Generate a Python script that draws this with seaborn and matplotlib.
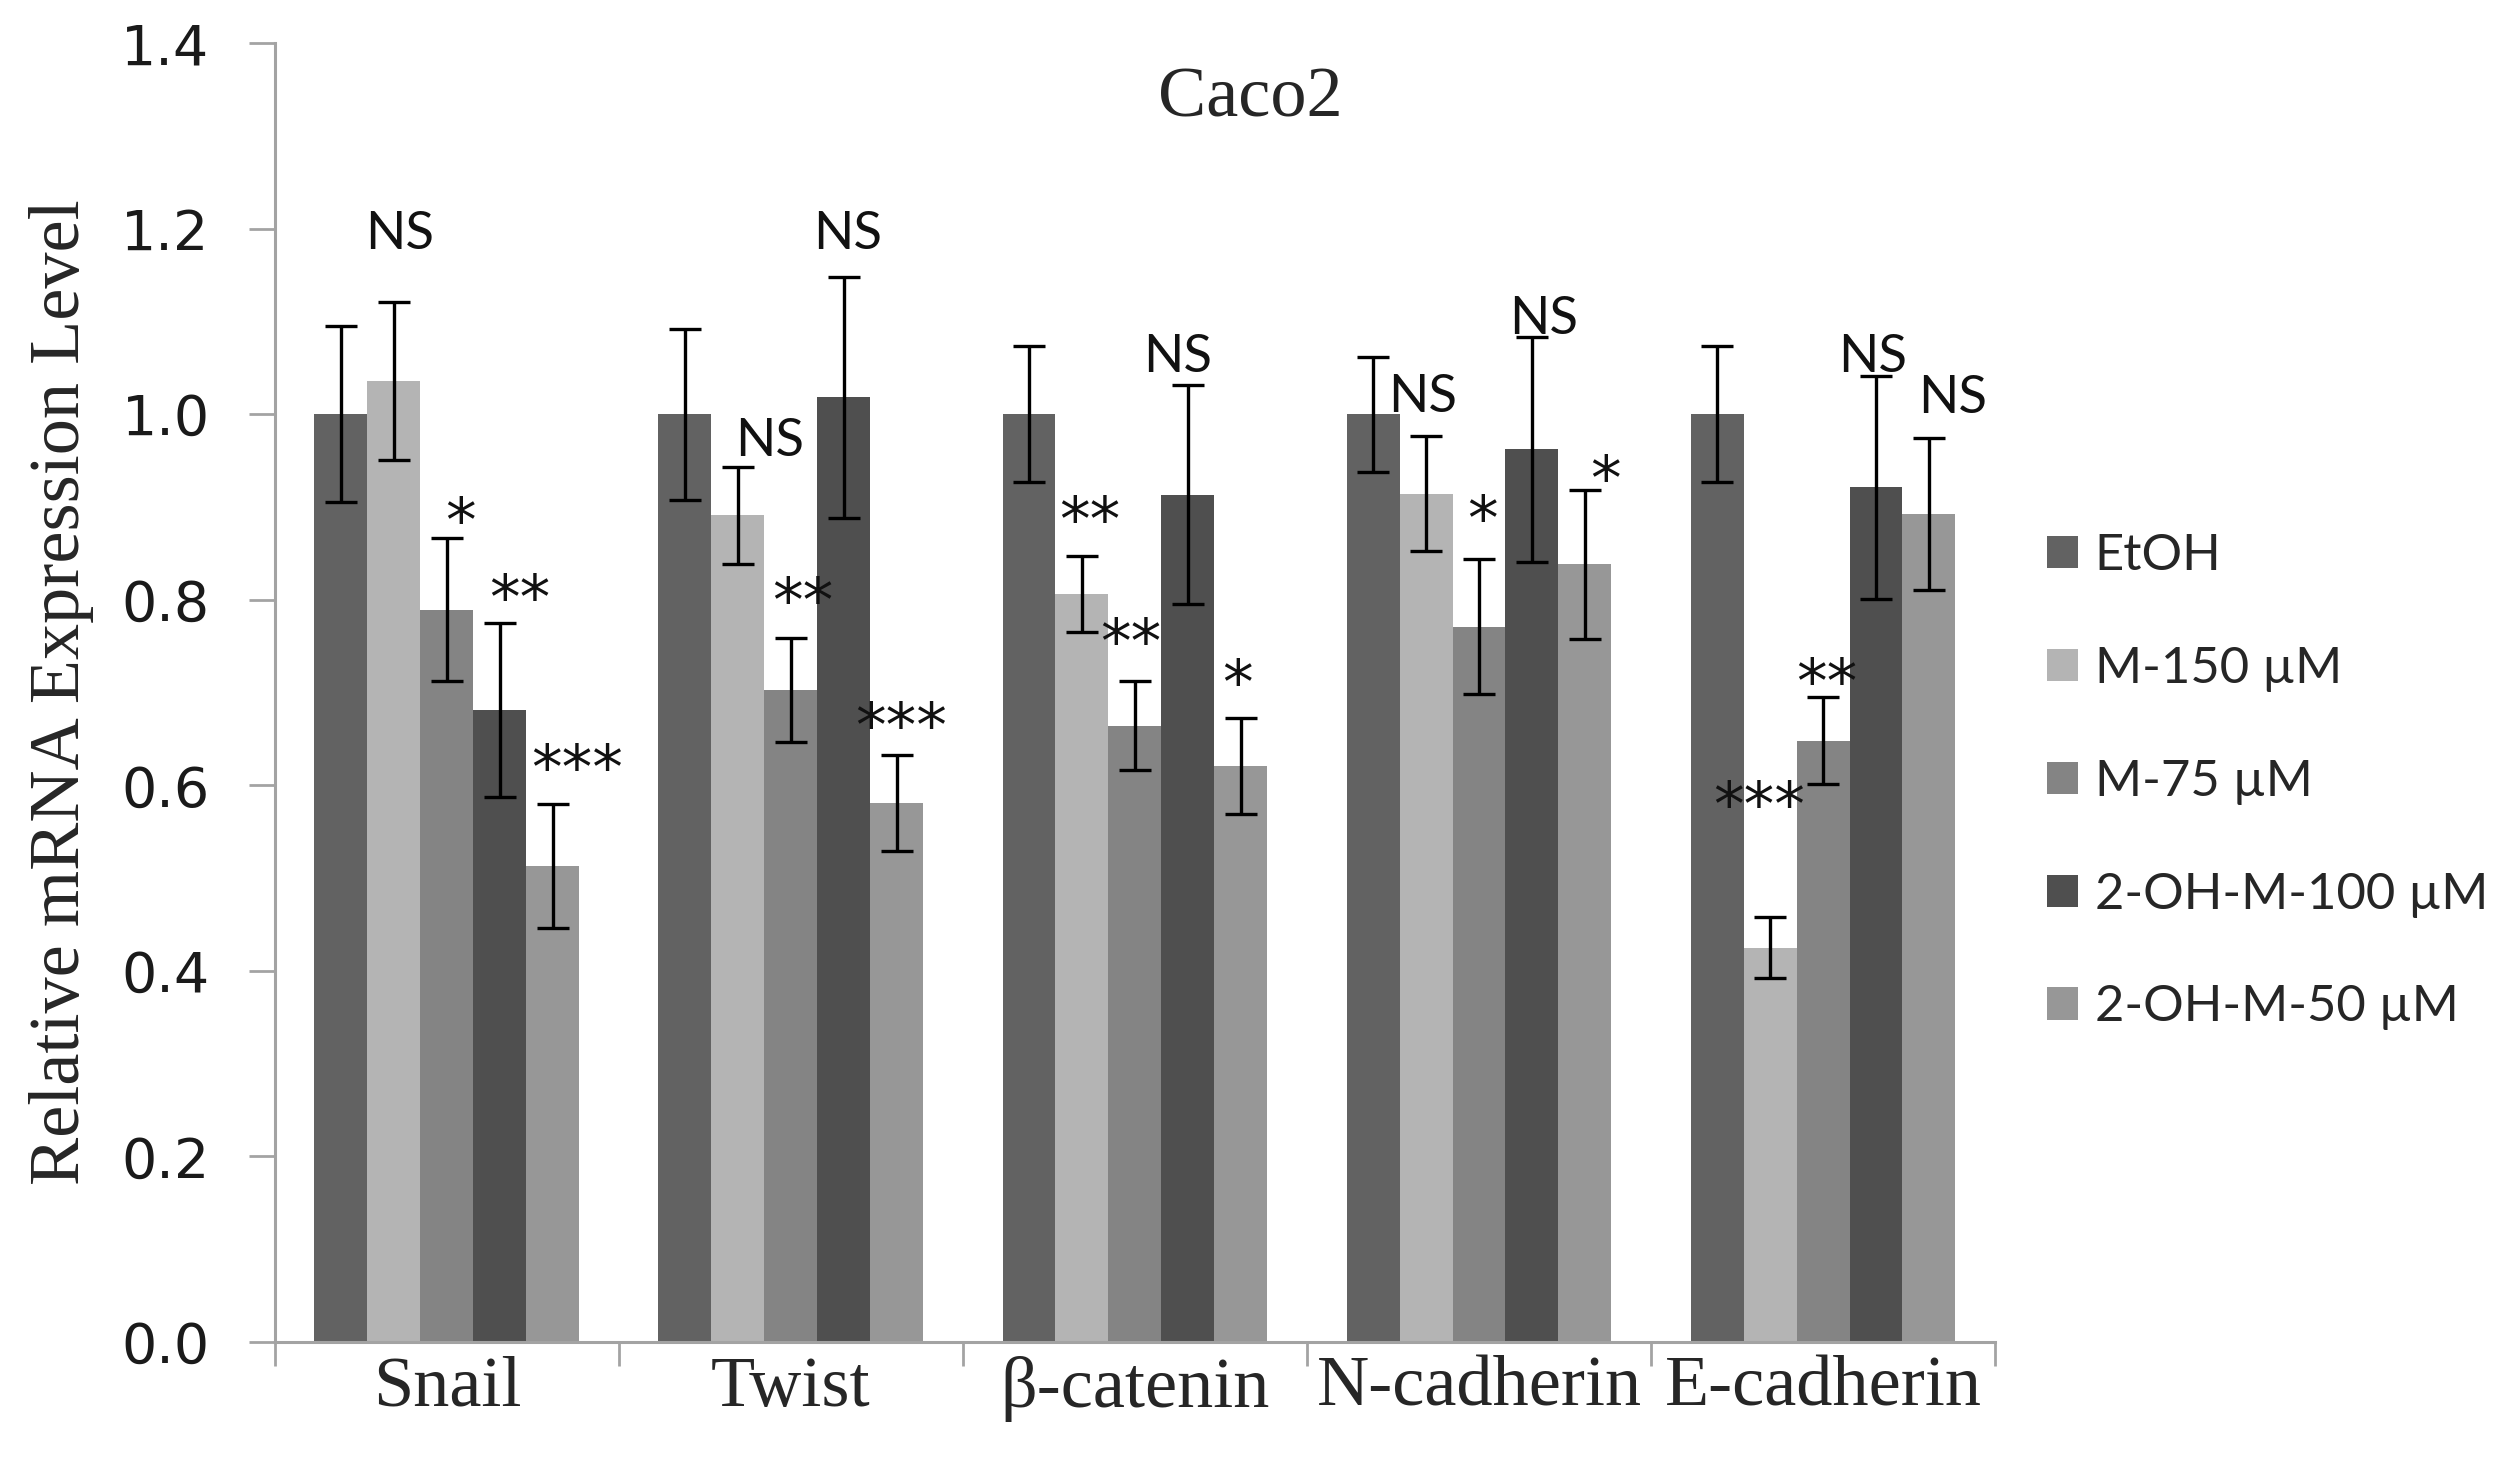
import numpy as np
import pandas as pd
import matplotlib
matplotlib.use("Agg")
import matplotlib.pyplot as plt
from matplotlib.container import BarContainer
import seaborn as sns

# Datos
genes = ["Snail", "Twist", "β-catenin", "N-cadherin", "E-cadherin"]
tratamientos = ["EtOH", "M-150 µM", "M-75 µM", "2-OH-M-100 µM", "2-OH-M-50 µM"]

etoh = [1.0, 1.0, 1.0, 1.0, 1.0]
etoh_err = [0.095, 0.092, 0.073, 0.062, 0.073]
m150 = [1.036, 0.891, 0.806, 0.914, 0.425]
m150_err = [0.085, 0.052, 0.041, 0.062, 0.033]
m75 = [0.789, 0.703, 0.664, 0.771, 0.648]
m75_err = [0.077, 0.056, 0.048, 0.073, 0.047]
oh100 = [0.681, 1.018, 0.913, 0.962, 0.921]
oh100_err = [0.094, 0.130, 0.118, 0.121, 0.120]
oh50 = [0.513, 0.581, 0.621, 0.838, 0.892]
oh50_err = [0.067, 0.052, 0.052, 0.080, 0.082]

# Significancia (M-150, M-75, 2-OH-M-100, 2-OH-M-50) por gen
sig_texto = [
    ["NS", "*", "**", "***"],
    ["NS", "**", "NS", "***"],
    ["**", "**", "NS", "*"],
    ["NS", "*", "NS", "*"],
    ["***", "**", "NS", "NS"],
]
# altura (centro visual) de cada etiqueta
sig_y = [
    [1.199, 0.898, 0.815, 0.632],
    [0.975, 0.812, 1.199, 0.677],
    [0.899, 0.768, 1.066, 0.724],
    [1.023, 0.900, 1.107, 0.943],
    [0.592, 0.725, 1.066, 1.022],
]
# desplazamiento horizontal (unidades de categoría)
sig_dx = [
    [0.017, 0.040, 0.058, 0.070],
    [0.093, 0.035, 0.012, 0.012],
    [0.023, -0.012, -0.029, -0.009],
    [-0.009, 0.009, 0.035, 0.061],
    [-0.032, 0.012, -0.009, 0.070],
]

valores = [etoh, m150, m75, oh100, oh50]
errores = [etoh_err, m150_err, m75_err, oh100_err, oh50_err]
colores = ["#626262", "#b4b4b4", "#848484", "#4f4f4f", "#979797"]

# Tabla larga para seaborn
filas = []
for t, vals in zip(tratamientos, valores):
    for g, v in zip(genes, vals):
        filas.append({"gen": g, "tratamiento": t, "valor": v})
df = pd.DataFrame(filas)

sns.set_style("ticks")
plt.rcParams["font.family"] = ["Lato", "DejaVu Sans"]

gris = "#a3a3a3"
fig = plt.figure(figsize=(25.06, 14.84), dpi=100)
ax = fig.add_axes([0.1097, 0.0957, 0.6864, 0.8753])

sns.barplot(
    data=df, x="gen", y="valor", hue="tratamiento",
    order=genes, hue_order=tratamientos,
    palette=dict(zip(tratamientos, colores)),
    width=0.77, saturation=1, errorbar=None,
    linewidth=0, ax=ax,
)

barras = [c for c in ax.containers if isinstance(c, BarContainer)]

# Barras de error
for i, cont in enumerate(barras):
    xs = [b.get_x() + b.get_width() / 2 for b in cont]
    ys = [b.get_height() for b in cont]
    ax.errorbar(xs, ys, yerr=errores[i], fmt="none", ecolor="black",
                elinewidth=2.4, capsize=11.5, capthick=2.4, zorder=5)

# Etiquetas de significancia
for i, cont in enumerate(barras[1:]):
    for j, b in enumerate(cont):
        txt = sig_texto[j][i]
        x = b.get_x() + b.get_width() / 2 + sig_dx[j][i]
        if txt == "NS":
            fam, tam, baja = "Lato", 38, 0.36
        else:
            fam, tam, baja = "DejaVu Sans", 44, 0.53
        ax.annotate(txt, xy=(x, sig_y[j][i]), xytext=(0, -baja * tam),
                    textcoords="offset points", ha="center", va="baseline",
                    fontsize=tam, family=fam, color="#111111", zorder=6)

# Ejes
ax.set_xlim(-0.5, 4.5)
ax.set_ylim(0, 1.4)
ax.set_yticks(np.arange(0, 1.41, 0.2))
ax.yaxis.set_major_formatter(matplotlib.ticker.FormatStrFormatter("%.1f"))
ax.set_xticks(np.arange(-0.5, 5, 1), minor=True)

sns.despine(ax=ax)
for s in ["left", "bottom"]:
    ax.spines[s].set_color(gris)
    ax.spines[s].set_linewidth(2.2)

ax.tick_params(axis="y", length=19, width=2, color=gris, pad=28,
               labelsize=40, labelcolor="#1a1a1a")
for lab in ax.get_yticklabels():
    lab.set_family("DejaVu Sans")
ax.tick_params(axis="x", which="major", length=0, pad=10, labelsize=52)
ax.tick_params(axis="x", which="minor", length=17, width=2, color=gris)
for lab in ax.get_xticklabels():
    lab.set_family("Liberation Serif")

ax.set_xlabel("")
ax.set_ylabel("Relative mRNA Expression Level", fontsize=52,
              family="Liberation Serif")
ax.yaxis.set_label_coords(-0.105, 0.5)

ax.text(0.567, 0.957, "Caco2", transform=ax.transAxes, ha="center",
        va="center", fontsize=52, family="Liberation Serif")

# Leyenda
handles, labels = ax.get_legend_handles_labels()
ax.legend(handles, labels, loc="upper left", bbox_to_anchor=(0.817, 0.641),
          bbox_transform=fig.transFigure, frameon=False, fontsize=36.5,
          handlelength=0.6, handleheight=0.6, handletextpad=0.33,
          labelspacing=1.32, borderpad=0, borderaxespad=0)

fig.savefig("out.png", dpi=100)
